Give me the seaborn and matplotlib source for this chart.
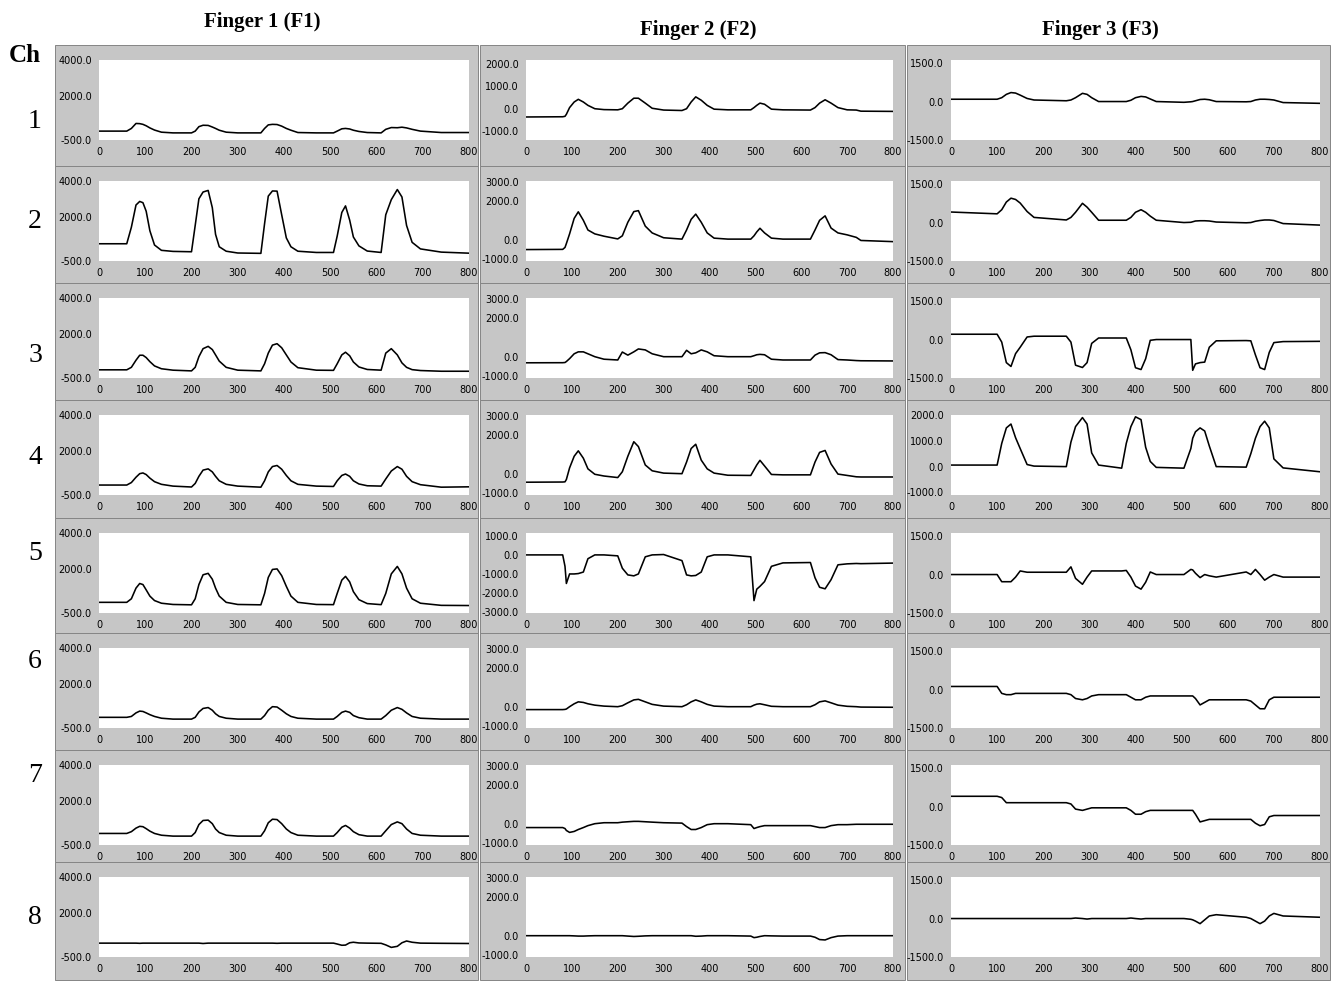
import matplotlib
matplotlib.use("Agg")
import matplotlib.pyplot as plt
import seaborn as sns
import pandas as pd
from matplotlib.patches import Rectangle
from matplotlib.ticker import FixedLocator, FormatStrFormatter
from matplotlib import font_manager

# ---------------- data ----------------
col_titles = ["Finger 1 (F1)", "Finger 2 (F2)", "Finger 3 (F3)"]
channels = ["1", "2", "3", "4", "5", "6", "7", "8"]
x_ticks = [0, 100, 200, 300, 400, 500, 600, 700, 800]

# Finger 1 sample positions and channel values
f1_t = [0, 60, 70, 80, 88, 95, 102, 110, 120, 135,
        160, 200, 208, 216, 225, 236, 245, 252, 260, 275,
        300, 350, 358, 366, 375, 385, 395, 405, 415, 430,
        470, 507, 515, 525, 533, 542, 550, 562, 580, 610,
        620, 632, 645, 655, 665, 677, 695, 740, 800]
f1_ch1 = [0, 0, 150, 430, 420, 380, 300, 180, 60, -60,
          -100, -100, 0, 250, 330, 320, 230, 150, 50, -60,
          -100, -100, 150, 350, 380, 370, 280, 150, 50, -80,
          -100, -100, 0, 130, 150, 120, 50, -20, -80, -100,
          100, 200, 190, 220, 180, 100, 0, -80, -80]
f1_ch2 = [470, 470, 1400, 2650, 2850, 2780, 2300, 1200, 400, 100,
          40, 20, 1500, 3000, 3380, 3470, 2500, 1000, 300, 50,
          -50, -70, 1600, 3150, 3440, 3430, 2100, 800, 300, 50,
          -20, -20, 900, 2230, 2600, 1800, 850, 350, 60, -20,
          2100, 2950, 3520, 3100, 1500, 550, 180, 0, -60]
f1_ch3 = [-40, -40, 100, 500, 780, 780, 650, 420, 180, 20,
          -60, -100, 100, 700, 1150, 1280, 1100, 800, 450, 100,
          -60, -100, 300, 900, 1350, 1430, 1200, 800, 400, 80,
          -60, -70, 300, 800, 950, 750, 400, 120, -20, -60,
          900, 1150, 800, 350, 100, -30, -80, -120, -120]
f1_ch4 = [60, 60, 200, 500, 700, 740, 650, 450, 250, 100,
          0, -50, 150, 550, 900, 970, 800, 550, 300, 100,
          0, -60, 300, 800, 1100, 1160, 950, 600, 300, 100,
          0, -20, 300, 600, 680, 550, 300, 120, 20, 0,
          400, 850, 1100, 950, 550, 250, 80, -60, -40]
f1_ch5 = [100, 100, 300, 900, 1160, 1100, 800, 450, 200, 50,
          -20, -40, 300, 1100, 1650, 1730, 1400, 900, 450, 100,
          -20, -40, 600, 1500, 1950, 1980, 1600, 1000, 450, 100,
          -20, -30, 600, 1350, 1560, 1250, 700, 250, 30, -30,
          600, 1700, 2120, 1700, 900, 300, 50, -70, -80]
f1_ch6 = [100, 100, 150, 350, 450, 430, 350, 250, 150, 50,
          0, 0, 100, 400, 600, 650, 500, 300, 150, 50,
          0, 0, 200, 500, 700, 680, 500, 300, 150, 50,
          0, 0, 150, 380, 450, 380, 200, 80, 0, 0,
          200, 500, 650, 550, 350, 150, 50, 0, 0]
f1_ch7 = [150, 150, 250, 450, 550, 530, 420, 280, 150, 50,
          0, 0, 200, 650, 880, 900, 700, 400, 200, 50,
          0, 0, 300, 750, 950, 930, 700, 400, 200, 50,
          0, 0, 200, 500, 600, 450, 250, 80, 0, 0,
          300, 650, 800, 700, 400, 150, 50, 0, 0]
f1_ch8 = [280, 280, 280, 280, 270, 280, 280, 280, 280, 280,
          280, 280, 280, 280, 260, 280, 280, 280, 280, 280,
          280, 280, 280, 280, 280, 270, 280, 280, 280, 280,
          280, 280, 230, 160, 170, 300, 330, 290, 280, 270,
          180, 40, 100, 300, 400, 330, 280, 270, 260]

# Finger 2
f2_t = [0, 80, 85, 88, 95, 105, 114, 125, 135, 150,
        170, 200, 210, 222, 235, 245, 260, 275, 300, 340,
        350, 360, 370, 382, 395, 410, 440, 490, 497, 503,
        510, 520, 535, 560, 620, 630, 640, 652, 665, 680,
        700, 720, 730, 800]
f2_ch1 = [-370, -360, -340, -250, 50, 300, 420, 300, 150, 0,
          -40, -50, 0, 250, 470, 470, 250, 20, -60, -80,
          0, 300, 530, 380, 150, -20, -50, -50, 50, 150,
          250, 200, -20, -50, -60, 50, 250, 400, 250, 50,
          -50, -60, -110, -120]
f2_ch2 = [-510, -500, -400, -200, 300, 1100, 1440, 1000, 500, 300,
          180, 40, 200, 900, 1450, 1500, 700, 350, 100, 30,
          500, 1050, 1320, 900, 350, 80, 30, 30, 200, 400,
          590, 350, 80, 30, 30, 500, 1000, 1230, 600, 350,
          250, 120, -40, -100]
f2_ch3 = [-315, -310, -300, -250, -100, 150, 250, 250, 150, 0,
          -130, -170, 240, 80, 250, 400, 350, 150, 0, 0,
          330, 150, 200, 350, 250, 50, 0, 0, 50, 100,
          120, 100, -130, -170, -170, 80, 200, 210, 100, -150,
          -170, -200, -210, -220]
f2_ch4 = [-440, -430, -420, -300, 300, 900, 1180, 800, 250, -30,
          -120, -200, 100, 900, 1650, 1400, 450, 150, 30, 0,
          600, 1300, 1520, 700, 250, 30, -80, -90, 200, 450,
          690, 400, -40, -60, -60, 600, 1100, 1200, 500, -20,
          -90, -160, -170, -170]
f2_ch5 = [0, 0, -600, -1500, -1000, -1000, -980, -900, -200, 0,
          0, -50, -700, -1050, -1100, -1000, -100, 0, 20, -300,
          -1050, -1100, -1080, -900, -100, 0, 0, -100, -2400, -1800,
          -1650, -1400, -600, -420, -400, -1200, -1700, -1780, -1300, -520,
          -470, -450, -460, -430]
f2_ch6 = [-150, -150, -140, -120, 0, 150, 250, 220, 150, 80,
          30, 0, 50, 200, 350, 380, 250, 120, 30, 0,
          100, 250, 350, 250, 120, 30, 0, 0, 80, 130,
          150, 100, 20, 0, 0, 100, 250, 300, 200, 80,
          20, 0, -20, -30]
f2_ch7 = [-200, -200, -250, -350, -450, -400, -300, -200, -100, 0,
          50, 50, 80, 100, 120, 120, 100, 80, 50, 30,
          -150, -300, -300, -200, -50, 0, 0, -50, -250, -200,
          -150, -100, -100, -100, -100, -150, -200, -200, -100, -50,
          -50, -30, -30, -30]
f2_ch8 = [0, 0, 0, 0, 0, -10, -20, -20, -10, 0,
          0, 0, 0, -20, -40, -30, -10, 0, 0, 0,
          0, 0, -30, -20, 0, 0, 0, -20, -100, -80,
          -40, 0, -10, -20, -20, -80, -200, -220, -100, -20,
          0, 0, 0, 0]

# Finger 3
f3_t = [0, 100, 110, 120, 130, 140, 150, 165, 180, 250,
        260, 270, 285, 295, 305, 320, 370, 380, 390, 400,
        412, 422, 432, 445, 505, 520, 524, 530, 540, 550,
        560, 575, 640, 650, 660, 670, 680, 690, 700, 720,
        800]
f3_ch1 = [90, 90, 150, 280, 350, 330, 250, 120, 60, 30,
          60, 150, 320, 280, 150, 0, 0, 0, 50, 150,
          200, 180, 100, 0, -30, -10, 0, 30, 80, 90,
          70, 0, -10, 0, 60, 90, 90, 80, 60, -40,
          -70]
f3_ch2 = [410, 340, 500, 800, 950, 900, 760, 430, 200, 100,
          200, 400, 750, 600, 400, 90, 90, 90, 200, 400,
          500, 400, 250, 90, 0, 10, 30, 60, 70, 70,
          60, 20, -10, 0, 50, 80, 100, 100, 80, -40,
          -100]
f3_ch3 = [207, 207, -100, -900, -1050, -550, -300, 100, 130, 130,
          -100, -1000, -1090, -900, -150, 60, 60, 60, -400, -1100,
          -1170, -750, -30, 0, 0, 0, -1200, -950, -900, -880,
          -300, -50, -40, -50, -600, -1100, -1170, -500, -120, -80,
          -70]
f3_ch4 = [60, 60, 900, 1500, 1650, 1120, 700, 80, 20, 0,
          950, 1550, 1900, 1650, 530, 60, -60, 900, 1550, 1930,
          1820, 750, 200, -30, -60, 700, 1100, 1350, 1500, 1380,
          800, 0, -20, 500, 1100, 1550, 1760, 1500, 300, -50,
          -200]
f3_ch5 = [0, 0, -280, -280, -280, -100, 140, 90, 90, 90,
          300, -150, -380, -100, 140, 140, 140, 160, -100, -450,
          -570, -300, 100, 0, 0, 200, 180, 50, -120, 0,
          -50, -100, 100, 0, 200, 0, -220, -100, 0, -100,
          -100]
f3_ch6 = [120, 120, -150, -200, -200, -150, -150, -150, -150, -150,
          -200, -350, -400, -350, -250, -200, -200, -200, -300, -400,
          -400, -300, -250, -250, -250, -250, -250, -350, -600, -500,
          -400, -400, -400, -450, -600, -750, -750, -400, -300, -300,
          -300]
f3_ch7 = [400, 400, 350, 150, 150, 150, 150, 150, 150, 150,
          100, -100, -150, -100, -50, -50, -50, -50, -150, -300,
          -300, -200, -150, -150, -150, -150, -150, -300, -600, -550,
          -500, -500, -500, -500, -650, -750, -700, -400, -350, -350,
          -350]
f3_ch8 = [0, 0, 0, 0, 0, 0, 0, 0, 0, 0,
          0, 20, 0, -20, 0, 0, 0, 0, 20, 0,
          -20, 0, 0, 0, 0, -30, -50, -100, -200, -50,
          100, 150, 50, 0, -100, -200, -100, 100, 200, 100,
          50]

# labelled y ticks per finger/channel
f1_yticks = [[4000, 2000, -500]] * 8
f2_yticks = [[2000, 1000, 0, -1000]] + [[3000, 2000, 0, -1000]] * 3 + \
            [[1000, 0, -1000, -2000, -3000]] + [[3000, 2000, 0, -1000]] * 3
f3_yticks = [[1500, 0, -1500]] * 3 + [[2000, 1000, 0, -1000]] + [[1500, 0, -1500]] * 4

# ---------------- layout ----------------
W, H = 1336, 982
row_tops = [60, 181, 298, 415, 533, 648, 765, 877]
plot_h = 80
plot_x = [(99, 469), (526, 893), (951, 1320)]
panel_x = [(55, 478), (480, 905), (907, 1330)]
row_bounds = [45, 166, 283, 400, 518, 633, 750, 862, 980]
row_label_y = [122, 222, 355, 457, 553, 661, 775, 918]
title_pos = [(262, 22), (698, 30), (1100, 30)]

f1_ylim = [(-500, 4000)] * 8
f2_ylim = [(-1400, 2180)] + [(-1100, 3030)] * 3 + [(-3050, 1150)] + [(-1100, 3030)] * 3
f3_ylim = [(-1500, 1620)] * 3 + [(-1100, 2000)] + [(-1500, 1620)] * 4

sns.set_style("white")
plt.rcParams["font.family"] = ["DejaVu Sans"]
plt.rcParams["text.color"] = "black"
plt.rcParams["xtick.color"] = "black"
plt.rcParams["ytick.color"] = "black"

# narrow sans for the small tick numbers if available
installed = {f.name for f in font_manager.fontManager.ttflist}
if "Liberation Sans Narrow" in installed:
    tick_family, tick_size = "Liberation Sans Narrow", 8.0
else:
    tick_family, tick_size = "DejaVu Sans", 7.0

fig = plt.figure(figsize=(W / 100, H / 100), dpi=100)
fig.patch.set_facecolor("white")

fingers = [
    (f1_t, [f1_ch1, f1_ch2, f1_ch3, f1_ch4, f1_ch5, f1_ch6, f1_ch7, f1_ch8], f1_yticks, f1_ylim),
    (f2_t, [f2_ch1, f2_ch2, f2_ch3, f2_ch4, f2_ch5, f2_ch6, f2_ch7, f2_ch8], f2_yticks, f2_ylim),
    (f3_t, [f3_ch1, f3_ch2, f3_ch3, f3_ch4, f3_ch5, f3_ch6, f3_ch7, f3_ch8], f3_yticks, f3_ylim),
]

# gray panel backgrounds (behind the axes)
for c in range(3):
    px0, px1 = panel_x[c]
    for r in range(8):
        y0, y1 = row_bounds[r], row_bounds[r + 1]
        fig.patches.append(Rectangle((px0 / W, 1 - y1 / H), (px1 - px0) / W, (y1 - y0) / H,
                                     transform=fig.transFigure, facecolor="#c6c6c6",
                                     edgecolor="#858585", linewidth=0.7, zorder=-10))

for c, (t, chans, yticks, ylims) in enumerate(fingers):
    x0, x1 = plot_x[c]
    for r in range(8):
        top = row_tops[r]
        ax = fig.add_axes([x0 / W, 1 - (top + plot_h) / H, (x1 - x0) / W, plot_h / H])
        ax.set_zorder(5)
        ax.set_facecolor("white")
        df = pd.DataFrame({"t": t, "v": chans[r]})
        sns.lineplot(data=df, x="t", y="v", ax=ax, color="black", linewidth=1.15,
                     estimator=None, sort=False)
        ax.set_xlim(0, 800)
        ax.set_ylim(*ylims[r])
        ax.xaxis.set_major_locator(FixedLocator(x_ticks))
        ax.yaxis.set_major_locator(FixedLocator(yticks[r]))
        ax.yaxis.set_major_formatter(FormatStrFormatter("%.1f"))
        if c == 2 and r != 3:
            ax.yaxis.set_minor_locator(FixedLocator([1100, -1050]))
            ax.tick_params(axis="y", which="minor", direction="out", length=3, width=0.8,
                           color="black")
        ax.tick_params(axis="both", which="major", direction="out", length=4, width=0.8,
                       color="black", labelcolor="black", labelsize=tick_size, pad=1)
        for lab in ax.get_xticklabels() + ax.get_yticklabels():
            lab.set_family(tick_family)
        ax.set_xlabel("")
        ax.set_ylabel("")
        for s in ax.spines.values():
            s.set_visible(False)

for c in range(3):
    fig.text(title_pos[c][0] / W, 1 - title_pos[c][1] / H, col_titles[c], color="black",
             family="Liberation Serif", weight="bold", fontsize=15, ha="center", va="center")
fig.text(25 / W, 1 - 55 / H, "Ch", family="Liberation Serif", weight="bold", color="black",
         fontsize=18, ha="center", va="center")
for r in range(8):
    fig.text(35 / W, 1 - row_label_y[r] / H, channels[r], family="Liberation Serif",
             color="black", fontsize=20, ha="center", va="center")

fig.savefig("out.png", dpi=100)
